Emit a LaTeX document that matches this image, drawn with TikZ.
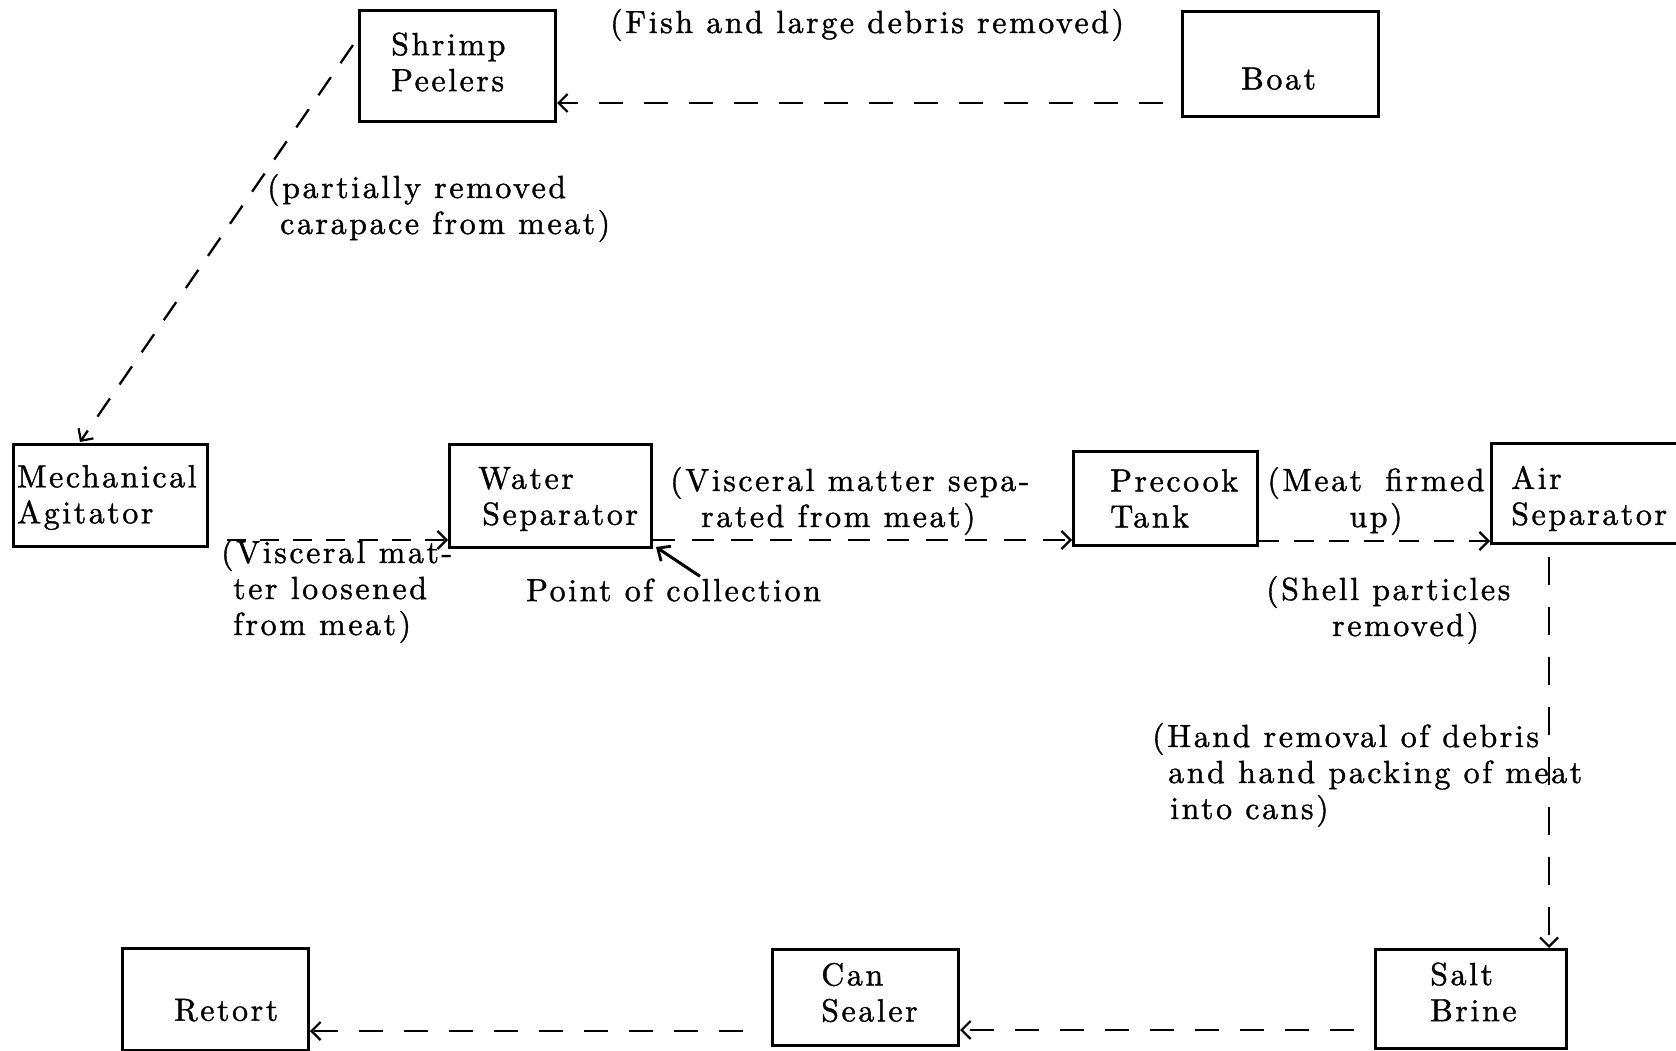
\documentclass[tikz,border=0pt]{standalone}
\usepackage{fontspec}
\newfontfamily\reffont{lmroman10-regular.otf}[LetterSpace=8,FakeBold=1.2]
\usetikzlibrary{arrows.meta,calc}
\begin{document}
\begin{tikzpicture}[x=1pt,y=-1pt,
  box/.style={draw, line width=3pt, rectangle, inner sep=0pt, anchor=north west},
  txt/.style={font=\reffont\fontsize{32}{36}\selectfont, inner sep=0pt, align=left, anchor=west},
  flow/.style={line width=2.3pt, dash pattern=on 24pt off 21pt,
    -{Straight Barb[length=9pt,width=18pt,line width=2.2pt]}},
  pointer/.style={line width=3pt, -{Straight Barb[length=10pt,width=18pt,line width=2.8pt]}}]
\useasboundingbox (0,0) rectangle (1676,1051);

% boxes
\node[box, minimum width=196pt, minimum height=111pt] (sp) at (358,9) {};
\node[box, minimum width=196pt, minimum height=105pt] (boat) at (1181,10) {};
\node[box, minimum width=194pt, minimum height=102pt] (ma) at (12,443) {};
\node[box, minimum width=202pt, minimum height=103pt] (ws) at (448,443) {};
\node[box, minimum width=184pt, minimum height=94pt] (pt) at (1072,450) {};
\node[box, minimum width=186pt, minimum height=100pt] (as) at (1490,442) {};
\node[box, minimum width=191pt, minimum height=99pt] (sb) at (1374,948) {};
\node[box, minimum width=186pt, minimum height=96pt] (cs) at (771,948) {};
\node[box, minimum width=186pt, minimum height=102pt] (rt) at (121,947) {};

% box texts
\node[txt] (tsp) at ($(sp.west)+(33,-4)$) {Shrimp\\Peelers};
\node[txt] (tboat) at ($(boat.west)+(60,-5)$) {\strut\\Boat};
\node[txt] (tma) at ($(ma.west)+(5,2)$) {Mechanical\\Agitator};
\node[txt] (tws) at ($(ws.west)+(30,3)$) {Water\\\hspace*{4pt}Separator};
\node[txt] (tpt) at ($(pt.west)+(38,0)$) {Precook\\Tank};
\node[txt] (tas) at ($(as.west)+(21,5)$) {Air\\Separator};
\node[txt] (tsb) at ($(sb.west)+(56,-7)$) {Salt\\Brine};
\node[txt] (tcs) at ($(cs.west)+(50,-5)$) {Can\\Sealer};
\node[txt] (trt) at ($(rt.west)+(53,-9)$) {\strut\\Retort};

% labels
\node[txt] (lfish) at (610,25) {(Fish and large debris removed)};
\node[txt] (lcara) at (267,208) {(partially removed\\\hspace*{13pt}carapace from meat)};
\node[txt] (lvisc1) at (221,591) {(Visceral mat-\\\hspace*{12pt}ter loosened\\\hspace*{12pt}from meat)};
\node[txt] (lvisc2) at (670,501) {(Visceral matter sepa-\\\hspace*{31pt}rated from meat)};
\node[txt] (lpoc) at (526,590) {Point of collection};
\node[txt, align=center, anchor=center] (lmeat) at (1376,501) {(Meat\hspace*{10pt} firmed\\up)};
\node[txt] (lshell) at (1266,610) {(Shell particles\\\hspace*{66pt}removed)};
\node[txt] (lhand) at (1152,775) {(Hand removal of debris\\\hspace*{16pt}and hand packing of meat\\\hspace*{18pt}into cans)};

% connectors
\draw[flow] ($(boat.south west)+(-18,-15)$) -- ($(sp.south east)+(0,-20)$);
\draw[flow, dash pattern=on 22pt off 17pt] ($(sp.north west)+(-5,36)$) -- ($(ma.north west)+(68,-1)$);
\draw[flow, dash pattern=on 19pt off 14pt] ($(ma.south east)+(18,-8)$) -- ($(ws.south west)+(0,-9)$);
\draw[flow, dash pattern=on 22pt off 17pt] ($(ws.south east)+(0,-9)$) -- ($(pt.south west)+(0,-7)$);
\draw[flow, dash pattern=on 20pt off 15pt] ($(pt.south east)+(0,-6)$) -- ($(as.south west)+(0,-4)$);
\draw[flow, dash pattern=on 28pt off 22pt] ($(as.south west)+(59,12)$) -- ($(sb.north west)+(175,0)$);
\draw[flow] ($(sb.south west)+(-20,-20)$) -- ($(cs.south east)+(0,-17)$);
\draw[flow] ($(cs.south west)+(-28,-16)$) -- ($(rt.south east)+(0,-21)$);
\draw[pointer] ($(lpoc.north west)+(174,-2)$) -- ($(ws.south east)+(3,-2)$);
\end{tikzpicture}
\end{document}
